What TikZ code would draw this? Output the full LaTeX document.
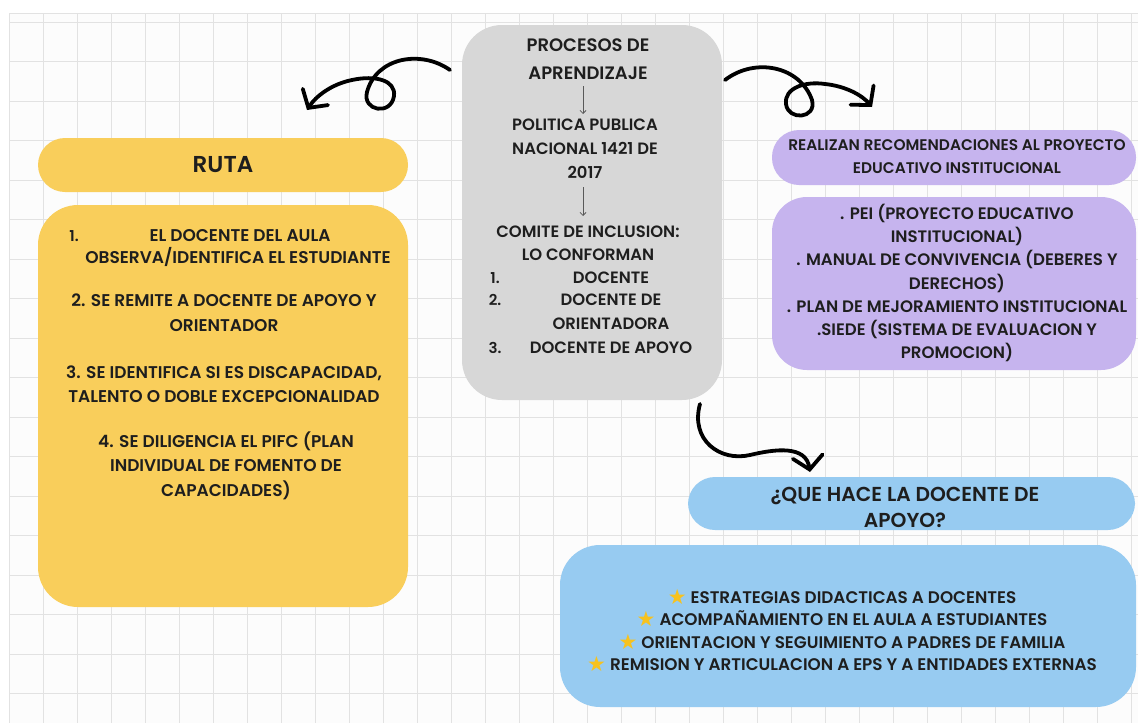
\documentclass[tikz,border=0pt]{standalone}
\usepackage{fontspec}
\setmainfont{Poppins}[BoldFont={Poppins SemiBold}]
\newfontfamily\starfont{DejaVu Sans}
\usetikzlibrary{arrows.meta}
\definecolor{rutac}{HTML}{F9CE5B}
\definecolor{grayc}{HTML}{D7D7D7}
\definecolor{purpc}{HTML}{C6B4EE}
\definecolor{bluec}{HTML}{97CBF1}
\definecolor{ink}{HTML}{1E1E1E}
\definecolor{gridc}{HTML}{E2E2E2}
\definecolor{starc}{HTML}{F7C21E}
\tikzset{
  panel/.style={draw=none, inner sep=0pt, rounded corners=#1},
  txt/.style 2 args={text=ink, align=center, inner sep=0pt, font=\fontsize{#1}{#2}\selectfont\bfseries},
  gridline/.style={draw=gridc, line width=0.7pt},
  bigarrow/.style={draw=black, line width=3.8pt, line cap=round, line join=round,
    -{Straight Barb[length=13pt,width=30pt,line cap=round]}},
  smallarrow/.style={draw=black!65, line width=0.8pt, -{Straight Barb[length=3pt,width=6pt]}},
}
\newcommand{\st}{\raisebox{-1pt}{\textcolor{starc}{\starfont\fontsize{21}{21}\selectfont ★}}\ }
\begin{document}
\begin{tikzpicture}[x=1pt,y=-1pt]
\useasboundingbox (0,0) rectangle (1138,723);
\fill[white] (0,0) rectangle (1138,723);
\fill[black!1] (9,13) rectangle (1138,723);
\foreach \i in {0,...,33} \draw[gridline] ({9+\i*34},13) -- ({9+\i*34},723);
\foreach \j in {0,...,18} \draw[gridline] (9,{22+\j*39.5}) -- (1138,{22+\j*39.5});
\draw[gridline] (9,13) -- (1138,13);

% panels
\node[panel=40pt, fill=grayc, minimum width=260pt, minimum height=375pt] (proc) at (592,212.5) {};
\node[panel=27pt, fill=rutac, minimum width=370pt, minimum height=54pt] (rutah) at (223,165) {};
\node[panel=40pt, fill=rutac, minimum width=370pt, minimum height=402pt] (rutab) at (223,406) {};
\node[panel=27pt, fill=purpc, minimum width=364pt, minimum height=55pt] (purh) at (954,157.5) {};
\node[panel=35pt, fill=purpc, minimum width=364pt, minimum height=173pt] (purb) at (954,283.5) {};
\node[panel=27pt, fill=bluec, minimum width=447pt, minimum height=53pt] (bluh) at (911.5,503.5) {};
\node[panel=40pt, fill=bluec, minimum width=576pt, minimum height=162pt] (blub) at (848,626) {};

% central texts
\node[txt={18}{28}] (ptitle) at (588,59) {PROCESOS DE\\APRENDIZAJE};
\node[txt={16.4}{24}] (ppol) at (585,149) {POLITICA PUBLICA\\NACIONAL 1421 DE\\2017};
\node[txt={16.4}{23}] (pcom) at (588,243.5) {COMITE DE INCLUSION:\\LO CONFORMAN};
\node[txt={15}{15}] (n1) at (495,278) {1.};
\node[txt={15}{15}] (n2) at (495,300) {2.};
\node[txt={15}{15}] (n3) at (495,348) {3.};
\node[txt={16.4}{24}] (i1) at (611,278) {DOCENTE};
\node[txt={16.4}{24}] (i2) at (611,312) {DOCENTE DE\\ORIENTADORA};
\node[txt={16.4}{24}] (i3) at (611,348) {DOCENTE DE APOYO};
\coordinate (a1s) at (583,86);
\coordinate (a1e) at (583,114);
\coordinate (a2s) at (583,187);
\coordinate (a2e) at (583,216);
\draw[smallarrow] (a1s) -- (a1e);
\draw[smallarrow] (a2s) -- (a2e);

% ruta texts
\node[txt={23}{23}] (rtitle) at (rutah) {RUTA};
\node[txt={15}{15}] (r1n) at (74,236) {1.};
\node[txt={17}{24}] (r1a) at (240,236) {EL DOCENTE DEL AULA};
\node[txt={17}{24}] (r1b) at (238,257) {OBSERVA/IDENTIFICA EL ESTUDIANTE};
\node[txt={17}{25}] (r2) at (224,312.5) {2. SE REMITE A DOCENTE DE APOYO Y\\ORIENTADOR};
\node[txt={17}{24}] (r3) at (224,384) {3. SE IDENTIFICA SI ES DISCAPACIDAD,\\TALENTO O DOBLE EXCEPCIONALIDAD};
\node[txt={17}{24.5}] (r4) at (226,465.5) {4. SE DILIGENCIA EL PIFC (PLAN\\INDIVIDUAL DE FOMENTO DE\\CAPACIDADES)};

% purple texts
\node[txt={15.4}{22.5}] (ptxt) at (957,156.5) {REALIZAN RECOMENDACIONES AL PROYECTO\\EDUCATIVO INSTITUCIONAL};
\node[txt={16.6}{23.3}] (pbody) at (957,283) {. PEI (PROYECTO EDUCATIVO\\INSTITUCIONAL)\\. MANUAL DE CONVIVENCIA (DEBERES Y\\DERECHOS)\\. PLAN DE MEJORAMIENTO INSTITUCIONAL\\.SIEDE (SISTEMA DE EVALUACION Y\\PROMOCION)};

% blue texts
\node[txt={20.2}{26}] (btitle) at (905,507) {¿QUE HACE LA DOCENTE DE\\APOYO?};
\node[txt={16.8}{22.3}] (bbody) at (842,630.5) {\st ESTRATEGIAS DIDACTICAS A DOCENTES\\\st ACOMPAÑAMIENTO EN EL AULA A ESTUDIANTES\\\st ORIENTACION Y SEGUIMIENTO A PADRES DE FAMILIA\\\st REMISION Y ARTICULACION A EPS Y A ENTIDADES EXTERNAS};

% loop arrows
\coordinate (ls) at (450,70);
\coordinate (le) at (307,110);
\draw[bigarrow] (ls) .. controls (420,49) and (376,58) .. (367,92)
  .. controls (362,111) and (391,116) .. (394,96)
  .. controls (396,80) and (375,75) .. (352,80)
  .. controls (332,84) and (316,96) .. (le);
\coordinate (rs) at (725,80);
\coordinate (re) at (872,107);
\draw[bigarrow] (rs) .. controls (755,57) and (800,66) .. (812,100)
  .. controls (817,119) and (788,121) .. (786,104)
  .. controls (784,88) and (805,81) .. (825,84)
  .. controls (845,86) and (862,95) .. (re);
\coordinate (bs) at (700,404);
\coordinate (be) at (810,472);
\draw[bigarrow] (bs) .. controls (690,440) and (720,462) .. (750,455)
  .. controls (775,449) and (806,445) .. (be);
\end{tikzpicture}
\end{document}
